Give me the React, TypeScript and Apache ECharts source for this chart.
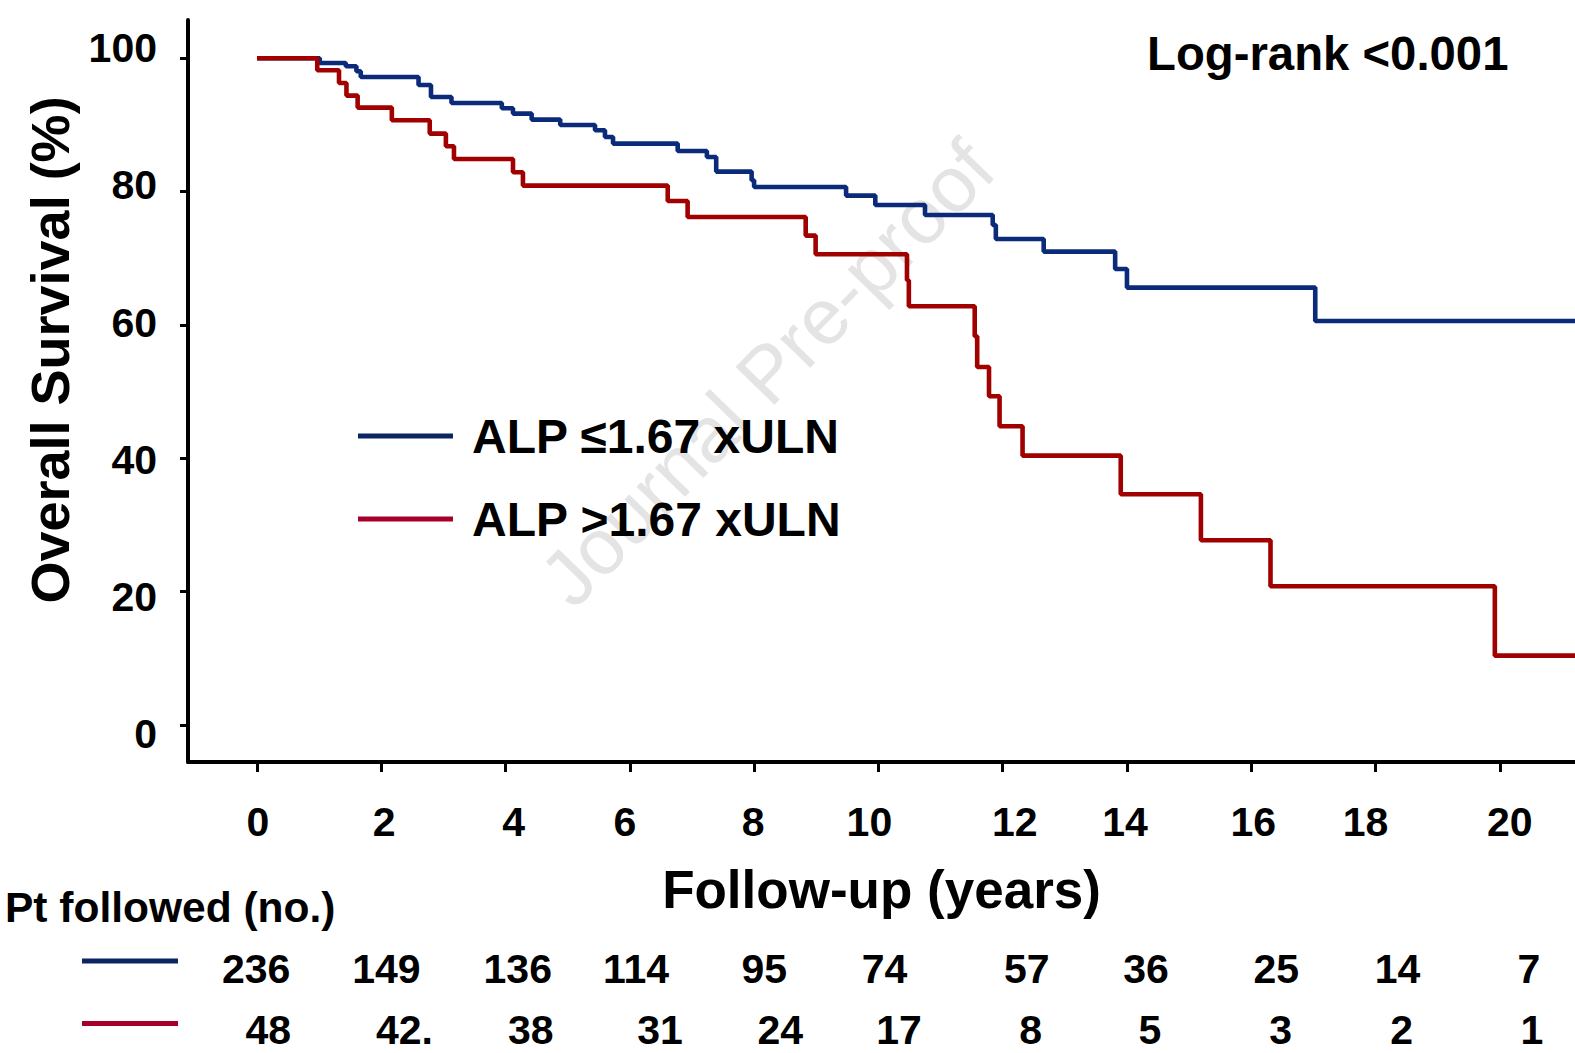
import React, { useEffect, useRef } from "react";
import * as echarts from "echarts";

const FONT = '"Liberation Sans", Arial, Helvetica, sans-serif';

// Kaplan-Meier steps (years, survival %)
const blueTimes = [0, 1.01, 1.43, 1.6, 1.67, 2.6, 2.8, 3.13, 3.94, 4.12, 4.42, 4.88, 5.44, 5.6, 5.73, 6.77, 7.24, 7.39, 7.96, 8.0, 9.48, 9.95, 10.75, 11.84, 11.89, 12.66, 13.81, 14.0, 17.03];
const blueSurv = [100, 99.3, 98.8, 98.05, 97.2, 96.0, 94.2, 93.3, 92.5, 91.7, 90.8, 90.0, 89.2, 88.2, 87.2, 86.1, 85.2, 83.0, 81.7, 80.7, 79.4, 78.0, 76.5, 75.0, 72.9, 71.0, 68.4, 65.6, 60.6];
const redTimes = [0, 0.97, 1.32, 1.44, 1.62, 2.17, 2.78, 3.04, 3.17, 4.12, 4.28, 6.61, 6.93, 8.83, 8.99, 10.46, 10.49, 11.55, 11.59, 11.78, 11.95, 12.32, 13.9, 15.19, 16.31, 19.92];
const redSurv = [100, 98.2, 96.3, 94.4, 92.6, 90.7, 88.7, 86.8, 84.9, 82.9, 80.9, 78.6, 76.2, 73.4, 70.6, 66.7, 62.8, 58.3, 53.7, 49.3, 44.8, 40.4, 34.6, 27.7, 20.8, 10.4];

const xTicks = [0, 2, 4, 6, 8, 10, 12, 14, 16, 18, 20];
const yTicks = [0, 20, 40, 60, 80, 100];

const riskTimes = [0, 2, 4, 6, 8, 10, 12, 14, 16, 18, 20];
const riskBlue = ["236", "149", "136", "114", "95", "74", "57", "36", "25", "14", "7"];
const riskRed = ["48", "42.", "38", "31", "24", "17", "8", "5", "3", "2", "1"];

const groupNames = ["ALP \u22641.67 xULN", "ALP >1.67 xULN"];

// small hand-placement nudges of the original figure's texts (px)
const xLabelNudge = [1, 3, 8, -5, -1, -9, 12, -2, 2, -10, 10];
const riskNudgeBlue = [0, 3, 7, -2, -1, -8, 7, -1, 2, -4, 0];
const riskNudgeRed = [12, 21, 20, 22, 15, 6.5, 11, 3, 6.4, 0, 3];

const X_MIN = -1.11;
const X_MAX = 21.21;

const BLUE = "#0b2b7a";
const RED = "#a00000";
const BLUE_KEY = "#0b2563";
const RED_KEY = "#a6002a";

function steps(times: number[], surv: number[]) {
  const d = times.map((t, i) => [t, surv[i]]);
  d.push([X_MAX, surv[surv.length - 1]]);
  return d;
}

export default function App() {
  const ref = useRef<HTMLDivElement>(null);
  useEffect(() => {
    const chart = echarts.init(ref.current!, null, { renderer: "svg" });
    const axisLineStyle = { color: "#000", width: 4 };
    const labelStyle = { fontSize: 41, fontWeight: "bold" as const, color: "#000", fontFamily: FONT };
    const rich: Record<string, any> = {};
    xLabelNudge.forEach((d, i) => {
      rich["s" + i] = {
        ...labelStyle,
        padding: d >= 0 ? [0, 0, 0, 2 * d] : [0, -2 * d, 0, 0],
      };
    });
    const riskSeries = (row: number, texts: string[], nudge: number[]) => ({
      type: "scatter",
      xAxisIndex: 1,
      yAxisIndex: 2,
      symbolSize: 1,
      itemStyle: { color: "#fff", opacity: 0 },
      silent: true,
      data: riskTimes.map((t, i) => ({ value: [t, row, texts[i]], label: { offset: [nudge[i], 0] } })),
      label: {
        show: true,
        position: "inside",
        formatter: (p: any) => p.value[2],
        ...labelStyle,
        opacity: 1,
        textBorderWidth: 0,
      },
    });
    chart.setOption({
      animation: false,
      backgroundColor: "#fff",
      grid: [
        { left: 188, right: 0, top: 20, height: 742 },
        { left: 188, right: 0, top: 939, height: 110 },
      ],
      xAxis: [
        {
          type: "value",
          gridIndex: 0,
          min: X_MIN,
          max: X_MAX,
          axisLine: { show: true, onZero: false, lineStyle: axisLineStyle },
          axisTick: { show: true, customValues: xTicks, length: 10, lineStyle: { color: "#000", width: 3 } },
          axisLabel: {
            customValues: xTicks,
            margin: 39,
            ...labelStyle,
            formatter: (v: number) => `{s${xTicks.indexOf(v)}|${v}}`,
            rich,
          },
          splitLine: { show: false },
          name: "Follow-up (years)",
          nameLocation: "middle",
          nameGap: 101,
          nameTextStyle: { fontSize: 53, fontWeight: "bold", color: "#000", fontFamily: FONT },
        },
        { type: "value", gridIndex: 1, min: -1.072, max: 20.726, show: false },
      ],
      yAxis: [
        {
          type: "value",
          gridIndex: 0,
          min: -5.55,
          max: 105.74,
          axisLine: { show: true, onZero: false, lineStyle: axisLineStyle },
          axisTick: { show: true, customValues: yTicks, length: 8, lineStyle: { color: "#000", width: 3 } },
          axisLabel: { show: false },
          splitLine: { show: false },
        },
        {
          type: "value",
          gridIndex: 0,
          position: "left",
          min: -4.04,
          max: 104.11,
          axisLine: { show: false, onZero: false },
          axisTick: { show: false },
          axisLabel: { customValues: yTicks, margin: 31, ...labelStyle },
          splitLine: { show: false },
        },
        { type: "value", gridIndex: 1, min: -0.5025, max: 1.3217, inverse: true, show: false },
      ],
      legend: {
        data: [
          { name: groupNames[0], itemStyle: { color: BLUE_KEY } },
          { name: groupNames[1], itemStyle: { color: RED_KEY } },
        ],
        orient: "vertical",
        left: 358,
        top: 412,
        padding: 0,
        itemWidth: 95,
        itemHeight: 5,
        itemGap: 35,
        icon: "rect",
        selectedMode: false,
        textStyle: { fontSize: 48, fontWeight: "bold", color: "#000", fontFamily: FONT, padding: [0, 0, 0, 14] },
      },
      series: [
        {
          type: "line",
          name: groupNames[0],
          xAxisIndex: 0,
          yAxisIndex: 0,
          step: "end",
          symbol: "none",
          data: steps(blueTimes, blueSurv),
          lineStyle: { color: BLUE, width: 4.6 },
          itemStyle: { color: BLUE },
          z: 3,
        },
        {
          type: "line",
          name: groupNames[1],
          xAxisIndex: 0,
          yAxisIndex: 0,
          step: "end",
          symbol: "none",
          data: steps(redTimes, redSurv),
          lineStyle: { color: RED, width: 4.6 },
          itemStyle: { color: RED },
          z: 3,
        },
        riskSeries(0, riskBlue, riskNudgeBlue),
        riskSeries(1, riskRed, riskNudgeRed),
      ],
      graphic: [
        {
          type: "text",
          x: 767,
          y: 373,
          rotation: 0.8,
          z: -10,
          silent: true,
          style: { text: "Journal Pre-proof", font: `79px ${FONT}`, fill: "#e4e4e4", align: "center", verticalAlign: "middle" },
        },
        {
          type: "text",
          x: 50,
          y: 350,
          rotation: Math.PI / 2,
          style: { text: "Overall Survival (%)", font: `bold 54px ${FONT}`, fill: "#000", align: "center", verticalAlign: "middle" },
        },
        {
          type: "text",
          x: 1147,
          y: 53,
          style: { text: "Log-rank <0.001", font: `bold 47.3px ${FONT}`, fill: "#000", align: "left", verticalAlign: "middle" },
        },
        {
          type: "text",
          x: 5,
          y: 907,
          style: { text: "Pt followed (no.)", font: `bold 42.5px ${FONT}`, fill: "#000", align: "left", verticalAlign: "middle" },
        },
        { type: "line", shape: { x1: 82, y1: 961, x2: 178, y2: 961 }, style: { stroke: BLUE_KEY, lineWidth: 5 } },
        { type: "line", shape: { x1: 82, y1: 1023.5, x2: 178, y2: 1023.5 }, style: { stroke: RED_KEY, lineWidth: 5 } },
      ],
    });
    return () => chart.dispose();
  }, []);
  return (
    <div
      ref={ref}
      style={{ position: "absolute", left: 0, top: 0, width: 1575, height: 1053, background: "#fff" }}
    />
  );
}
